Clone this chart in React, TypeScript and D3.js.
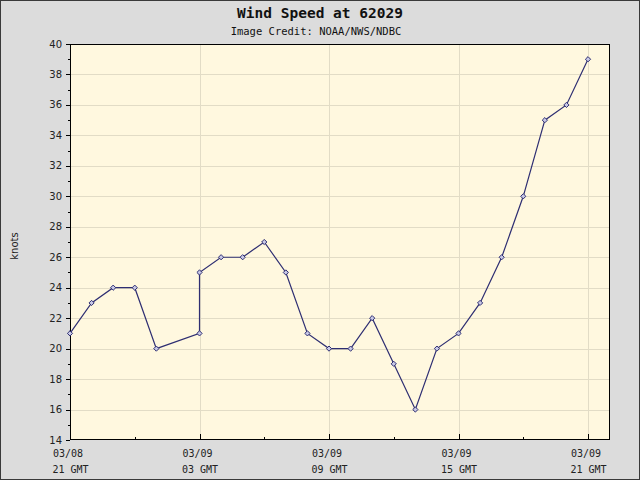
import React from "react";
import * as d3 from "d3";

const hours = [0, 1, 2, 3, 4, 6, 6, 7, 8, 9, 10, 11, 12, 13, 14, 15, 16, 17, 18, 19, 20, 21, 22, 23, 24];
const speeds = [21, 23, 24, 24, 20, 21, 25, 26, 26, 27, 25, 21, 20, 20, 22, 19, 16, 20, 21, 23, 26, 30, 35, 36, 39];
const xTickHours = [0, 6, 12, 18, 24];
const xTickDates = ["03/08", "03/09", "03/09", "03/09", "03/09"];
const xTickTimes = ["21 GMT", "03 GMT", "09 GMT", "15 GMT", "21 GMT"];
const xMinorHours = [3, 9, 15, 21];
const yMajor = [14, 16, 18, 20, 22, 24, 26, 28, 30, 32, 34, 36, 38, 40];
const yMinor = [15, 17, 19, 21, 23, 25, 27, 29, 31, 33, 35, 37, 39];

const W = 640;
const H = 480;
const left = 70;
const right = 610;
const top = 44;
const bottom = 440;

export default function App() {
  const x = d3.scaleLinear().domain([0, 25]).range([left, right - 0.4]);
  const y = d3.scaleLinear().domain([14, 40]).range([bottom, top]);
  const pts = hours.map((h, i) => [x(h), y(speeds[i])] as [number, number]);
  const line = d3.line()(pts) || "";
  const r = 2.6;
  const diamond = (cx: number, cy: number) => `M${cx},${cy - r}L${cx + r},${cy}L${cx},${cy + r}L${cx - r},${cy}Z`;
  const grid = "#e2dcc6";
  const navy = "#2e2e72";
  return (
    <svg width={W} height={H} style={{ position: "fixed", top: 0, left: 0 }} xmlns="http://www.w3.org/2000/svg">
      <rect x={0} y={0} width={W} height={H} fill="#dcdcdc" />
      <rect x={0.5} y={0.5} width={W - 1} height={H - 1} fill="none" stroke="#3a3a3a" strokeWidth={1} />
      <text x={320} y={18} textAnchor="middle" fontFamily="DejaVu Sans Mono" fontWeight="bold" fontSize={14.5} fill="#111">Wind Speed at 62029</text>
      <text x={316} y={35} textAnchor="middle" fontFamily="DejaVu Sans Mono" fontSize={10.5} fill="#111">Image Credit: NOAA/NWS/NDBC</text>
      <rect x={left} y={top} width={right - left} height={bottom - top} fill="#fff8df" />
      {yMajor.filter(v => v > 14 && v < 40).map(v => (
        <line key={"gy" + v} x1={left} x2={right} y1={Math.round(y(v)) + 0.5} y2={Math.round(y(v)) + 0.5} stroke={grid} strokeWidth={1} />
      ))}
      {xTickHours.filter(h => h > 0).map(h => (
        <line key={"gx" + h} x1={Math.round(x(h)) + 0.5} x2={Math.round(x(h)) + 0.5} y1={top} y2={bottom} stroke={grid} strokeWidth={1} />
      ))}
      <rect x={left + 0.5} y={top + 0.5} width={right - left - 1} height={bottom - top - 1} fill="none" stroke="#000" strokeWidth={1} />
      {yMajor.map(v => (
        <g key={"ty" + v}>
          <line x1={left - 4} x2={left} y1={Math.round(y(v)) + 0.5} y2={Math.round(y(v)) + 0.5} stroke="#000" />
          <text x={62} y={y(v) + 3.5} textAnchor="end" fontFamily="DejaVu Sans" fontSize={10} fill="#222">{v}</text>
        </g>
      ))}
      {yMinor.map(v => (
        <line key={"tym" + v} x1={left - 2} x2={left} y1={Math.round(y(v)) + 0.5} y2={Math.round(y(v)) + 0.5} stroke="#000" />
      ))}
      {xTickHours.map((h, i) => (
        <g key={"tx" + h}>
          <line x1={Math.round(x(h)) + 0.5} x2={Math.round(x(h)) + 0.5} y1={bottom - 6} y2={bottom} stroke="#000" />
          <text x={x(h) - 2} y={457} textAnchor="middle" fontFamily="DejaVu Sans Mono" fontSize={10} fill="#222">{xTickDates[i]}</text>
          <text x={x(h) + 0.5} y={473} textAnchor="middle" fontFamily="DejaVu Sans Mono" fontSize={10} fill="#222">{xTickTimes[i]}</text>
        </g>
      ))}
      {xMinorHours.map(h => (
        <line key={"txm" + h} x1={Math.round(x(h)) + 0.5} x2={Math.round(x(h)) + 0.5} y1={bottom - 3} y2={bottom} stroke="#000" />
      ))}
      <text transform="translate(18,246) rotate(-90)" textAnchor="middle" fontFamily="DejaVu Sans" fontSize={10} fill="#222">knots</text>
      <path d={line} fill="none" stroke={navy} strokeWidth={1.2} />
      {pts.map((p, i) => (
        <path key={"m" + i} d={diamond(p[0], p[1])} fill="#c8c8e6" stroke={navy} strokeWidth={1} />
      ))}
    </svg>
  );
}
